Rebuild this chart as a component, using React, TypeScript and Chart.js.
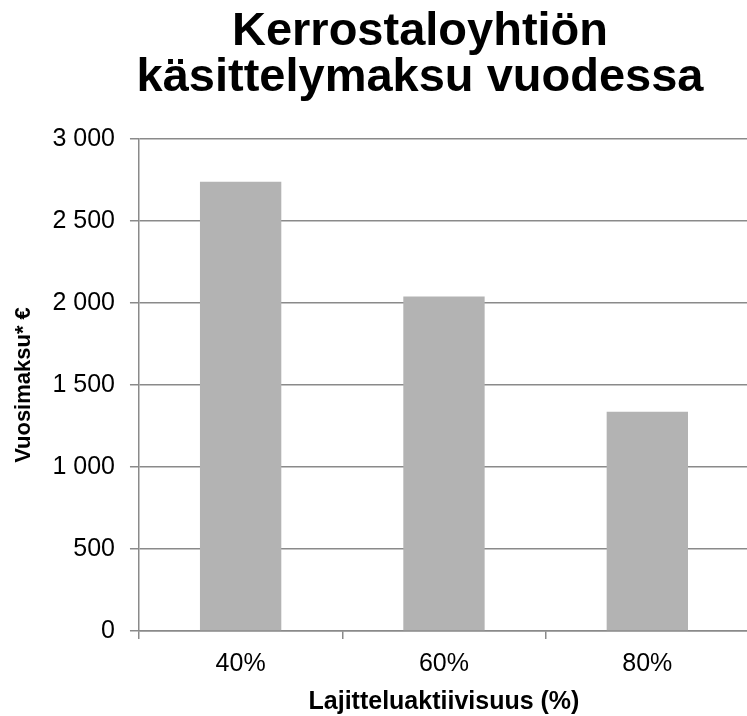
import React, { useEffect, useRef } from "react";
import { Chart, registerables } from "chart.js";

Chart.register(...registerables);

const titleLines = ["Kerrostaloyhtiön", "käsittelymaksu vuodessa"];
const categories = ["40%", "60%", "80%"];
const annualFee = [2740, 2040, 1337];
const yMin = 0;
const yMax = 3000;
const yStep = 500;
const yAxisTitle = "Vuosimaksu* €";
const xAxisTitle = "Lajitteluaktiivisuus (%)";

const FONT = "'Liberation Sans', Arial, Helvetica, sans-serif";
const GRID = "#8a8a8a";
const BAR = "#b3b3b3";
const CANVAS_W = 840;
const CANVAS_H = 716;

function formatThousands(v: number): string {
  return String(v).replace(/\B(?=(\d{3})+(?!\d))/g, " ");
}

const widenTitle = {
  id: "widenTitle",
  afterLayout(chart: any) {
    const tb = chart.titleBlock;
    if (tb) {
      tb.left = 0;
      tb.right = chart.width;
      tb.width = chart.width;
    }
  },
};

export default function App() {
  const ref = useRef<HTMLCanvasElement | null>(null);

  useEffect(() => {
    const canvas = ref.current;
    if (!canvas) return;
    const chart = new Chart(canvas, {
      type: "bar",
      data: {
        labels: categories,
        datasets: [
          {
            data: annualFee,
            backgroundColor: BAR,
            borderWidth: 0,
            categoryPercentage: 1,
            barPercentage: 0.4,
          },
        ],
      },
      plugins: [widenTitle],
      options: {
        responsive: false,
        animation: false,
        devicePixelRatio: 1,
        layout: { padding: { left: 0, right: 91, top: 0, bottom: 0 } },
        plugins: {
          legend: { display: false },
          tooltip: { enabled: false },
          title: {
            display: true,
            text: titleLines,
            color: "#000",
            font: { family: FONT, size: 47, weight: "bold", lineHeight: 46 / 47 },
            padding: { top: 9, bottom: 38 },
          },
        },
        scales: {
          x: {
            type: "category",
            offset: true,
            grid: {
              display: true,
              drawOnChartArea: false,
              drawTicks: true,
              tickLength: 8,
              color: GRID,
              lineWidth: 1.5,
              offset: true,
            },
            border: { display: true, color: GRID, width: 1.5 },
            ticks: {
              color: "#000",
              padding: 10,
              font: { family: FONT, size: 25, lineHeight: 1.2 },
            },
            title: {
              display: true,
              text: xAxisTitle,
              color: "#000",
              font: { family: FONT, size: 25, weight: "bold", lineHeight: 26 / 25 },
              padding: { top: 0, bottom: 1 },
            },
          },
          y: {
            min: yMin,
            max: yMax,
            grid: {
              color: GRID,
              lineWidth: 1.5,
              drawTicks: true,
              tickLength: 9,
            },
            border: { display: true, color: GRID, width: 1.5 },
            ticks: {
              stepSize: yStep,
              color: "#000",
              padding: 15,
              font: { family: FONT, size: 25, lineHeight: 1.2 },
              callback: (v: any) => formatThousands(Number(v)),
            },
            title: {
              display: true,
              text: yAxisTitle,
              color: "#000",
              font: { family: FONT, size: 22, weight: "bold", lineHeight: 1.2 },
              padding: { top: 11, bottom: 0 },
            },
          },
        },
      },
    });
    return () => chart.destroy();
  }, []);

  return (
    <div
      style={{
        position: "fixed",
        left: 0,
        top: 0,
        width: 747,
        height: 716,
        overflow: "hidden",
        background: "#fff",
      }}
    >
      <canvas
        ref={ref}
        width={CANVAS_W}
        height={CANVAS_H}
        style={{ display: "block", width: CANVAS_W, height: CANVAS_H }}
      />
    </div>
  );
}
